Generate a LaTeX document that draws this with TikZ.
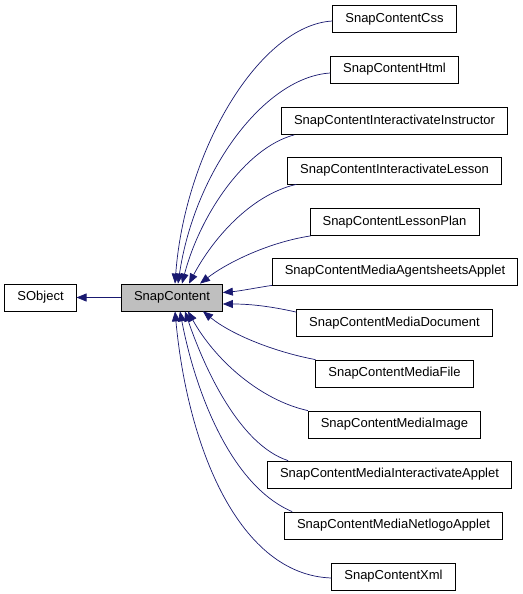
\documentclass[tikz,border=0pt]{standalone}
\usepackage{fontspec}
\setmainfont{Liberation Sans}
\usetikzlibrary{arrows.meta}
\definecolor{edgeblue}{HTML}{191970}
\definecolor{hilite}{HTML}{BFBFBF}
\begin{document}
\begin{tikzpicture}[x=1pt,y=-1pt,
  cls/.style={draw=black,fill=white,line width=0.8pt,minimum height=27pt,inner xsep=12.5pt,inner ysep=0pt,font=\fontsize{13}{15}\selectfont},
  inh/.style={draw=edgeblue,line width=0.7pt,-{Triangle[length=10pt,width=8pt]}}]
\useasboundingbox (0,0) rectangle (522,594);
\node[cls] (sob) at (40.5,297.5) {SObject};
\node[cls,fill=hilite,minimum width=98pt] (sc) at (172,297.5) {SnapContent};
\node[cls] (css) at (394.5,19) {SnapContentCss};
\node[cls] (html) at (394.5,69.5) {SnapContentHtml};
\node[cls] (ins) at (394.5,121) {SnapContentInteractivateInstructor};
\node[cls] (les) at (394.5,170.5) {SnapContentInteractivateLesson};
\node[cls] (lp) at (394.5,222) {SnapContentLessonPlan};
\node[cls] (ag) at (395,271.5) {SnapContentMediaAgentsheetsApplet};
\node[cls] (doc) at (394.5,323) {SnapContentMediaDocument};
\node[cls] (file) at (394.5,373.5) {SnapContentMediaFile};
\node[cls] (img) at (394.5,424.5) {SnapContentMediaImage};
\node[cls] (ia) at (389.5,474.5) {SnapContentMediaInteractivateApplet};
\node[cls] (net) at (393.5,525.5) {SnapContentMediaNetlogoApplet};
\node[cls] (xml) at (393.5,576.5) {SnapContentXml};

\draw[inh] (sc) -- (sob);
\draw[inh] ([yshift=-2pt]css.west) .. controls (260,25) and (185,150) .. ([xshift=3pt]sc.north);
\draw[inh] ([yshift=-3.5pt]html.west) .. controls (265,77) and (195,170) .. ([xshift=6pt]sc.north);
\draw[inh] ([xshift=13pt]ins.south west) .. controls (245,148) and (200,215) .. ([xshift=10pt]sc.north);
\draw[inh] ([xshift=9pt]les.south west) .. controls (250,195) and (212,240) .. ([xshift=17pt]sc.north);
\draw[inh] ([xshift=1pt]lp.south west) .. controls (270,242) and (228,262) .. ([xshift=28pt]sc.north);
\draw[inh] (ag.south west) .. controls (255,288) and (240,291) .. ([yshift=5pt]sc.east);
\draw[inh] ([yshift=-3pt]doc.north west) .. controls (265,305) and (245,304) .. ([yshift=-6.5pt]sc.east);
\draw[inh] (file.north west) .. controls (275,352) and (232,335) .. ([xshift=31pt]sc.south);
\draw[inh] (img.north west) .. controls (260,400) and (215,360) .. ([xshift=16pt]sc.south);
\draw[inh] ([xshift=21pt]ia.north west) .. controls (240,445) and (205,370) .. ([xshift=13pt]sc.south);
\draw[inh] ([xshift=8pt]net.north west) .. controls (230,485) and (195,390) .. ([xshift=8pt]sc.south);
\draw[inh] ([yshift=-1.5pt]xml.west) .. controls (240,575) and (188,450) .. ([xshift=3pt]sc.south);
\end{tikzpicture}
\end{document}
